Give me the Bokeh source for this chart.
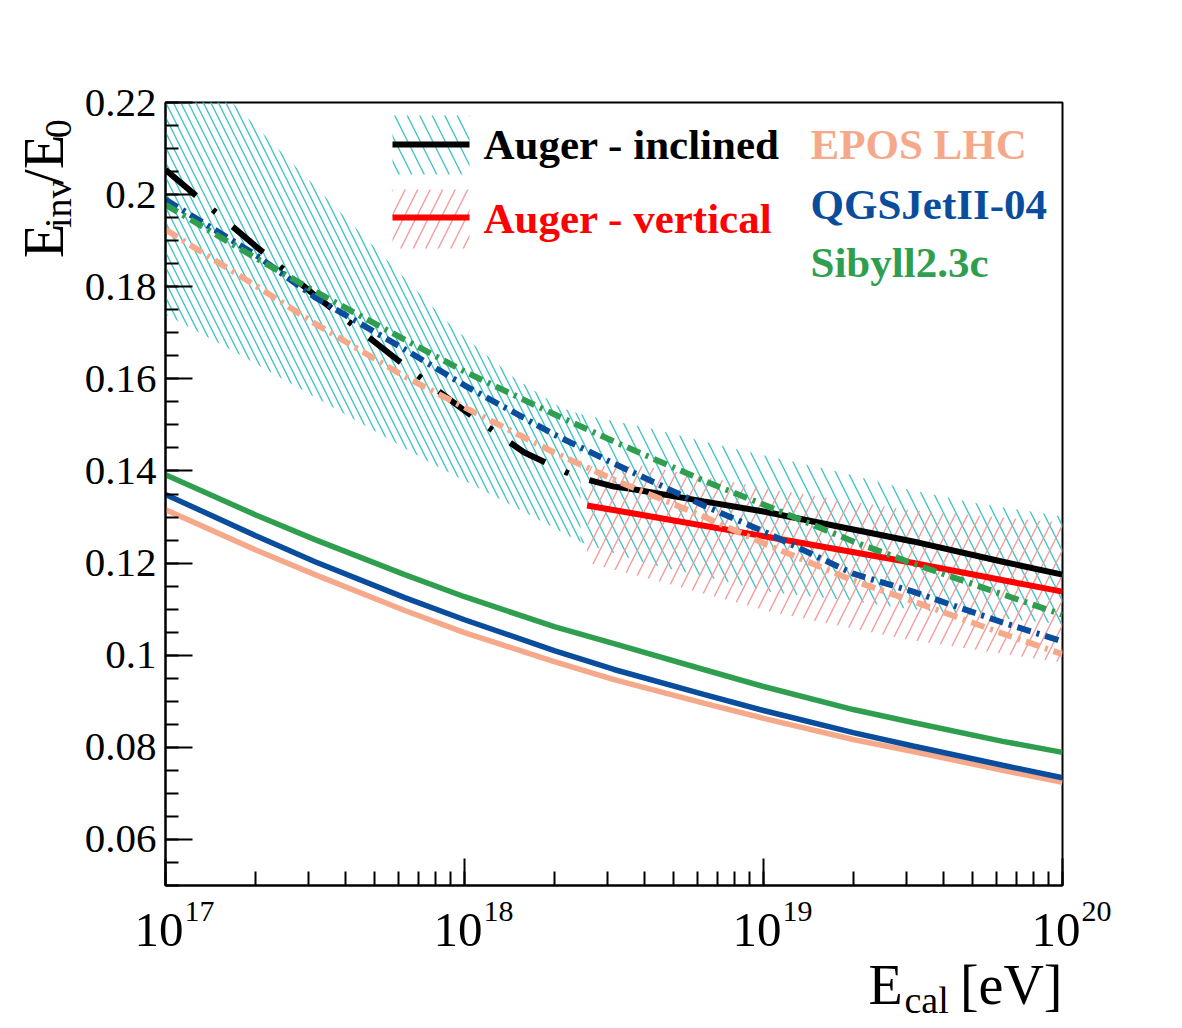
import math
from bokeh.plotting import figure
from bokeh.layouts import column, row
from bokeh.models import Range1d, FixedTicker, LogTicker, CustomJSTickFormatter, Label
from bokeh.core.properties import value
from bokeh.embed import file_html
from bokeh.resources import INLINE

# ---------------------------------------------------------------- data
# energies are given as log10(E_cal / eV)
model_logE = [17.0, 17.3, 17.5, 17.8, 18.0, 18.3, 18.5, 18.8, 19.0, 19.3, 19.5, 19.8, 20.0]

# hadronic interaction models, proton-like expectation (solid)
epos_solid = [0.1316, 0.1229, 0.1175, 0.1097, 0.1049, 0.0986, 0.0947, 0.0896, 0.0863, 0.0817, 0.0791, 0.0750, 0.0724]
qgsjet_solid = [0.1349, 0.1260, 0.1203, 0.1125, 0.1077, 0.1010, 0.0969, 0.0915, 0.0880, 0.0832, 0.0803, 0.0761, 0.0734]
sibyll_solid = [0.1392, 0.1305, 0.1251, 0.1175, 0.1127, 0.1062, 0.1025, 0.0969, 0.0932, 0.0882, 0.0854, 0.0813, 0.0789]

# hadronic interaction models with the measured composition (dash-dotted)
epos_mix = [0.1924, 0.1803, 0.1720, 0.1605, 0.1538, 0.1440, 0.1381, 0.1301, 0.1243, 0.1162, 0.1117, 0.1047, 0.1002]
qgsjet_mix = [0.1989, 0.1870, 0.1777, 0.1664, 0.1586, 0.1479, 0.1416, 0.1325, 0.1269, 0.1177, 0.1138, 0.1071, 0.1030]
sibyll_mix = [0.1978, 0.1863, 0.1790, 0.1685, 0.1616, 0.1523, 0.1464, 0.1379, 0.1327, 0.1247, 0.1199, 0.1132, 0.1088]

# Auger inclined events: parametrisation (dashed below 18.55, measured above)
inclined_logE = [17.0, 17.3, 17.5, 17.8, 18.0, 18.2, 18.37, 18.5, 18.55, 18.8, 19.0, 19.3, 19.5, 19.8, 20.0]
inclined_val = [0.2054, 0.1889, 0.1781, 0.1629, 0.1531, 0.1440, 0.1388, 0.1366, 0.1362, 0.1334, 0.1312, 0.1273, 0.1247, 0.1203, 0.1175]
inclined_measured_from = 18.55

# systematic band of the inclined result (low-energy part and high-energy part)
incl_band_lo_logE = [17.0, 17.217, 17.485, 17.886, 17.963, 18.164, 18.321, 18.388]
incl_band_lo_low = [0.1740, 0.1664, 0.1566, 0.1418, 0.1392, 0.1323, 0.1269, 0.1245]
incl_band_lo_high = [0.2400, 0.2204, 0.2028, 0.1761, 0.1711, 0.1603, 0.1538, 0.1523]
incl_band_hi_logE = [18.388, 18.555, 18.622, 18.813, 19.033, 19.258, 19.482, 19.702, 20.0]
incl_band_hi_low = [0.1245, 0.1210, 0.1197, 0.1169, 0.1136, 0.1121, 0.1101, 0.1086, 0.1067]
incl_band_hi_high = [0.1523, 0.1501, 0.1492, 0.1462, 0.1429, 0.1397, 0.1360, 0.1331, 0.1301]

# Auger vertical events
vertical_logE = [18.41, 18.59, 19.03, 19.48, 20.0]
vertical_val = [0.1325, 0.1305, 0.1255, 0.1203, 0.1138]
vertical_band_low = [0.1201, 0.1171, 0.1093, 0.1034, 0.0984]
vertical_band_high = [0.1410, 0.1412, 0.1360, 0.1316, 0.1288]

y_ticks = [0.06, 0.08, 0.10, 0.12, 0.14, 0.16, 0.18, 0.20, 0.22]
x_decades = [17, 18, 19, 20]

# ---------------------------------------------------------------- style
EPOS = "#f6a98a"
QGS = "#0a4d9d"
SIB = "#2f9f4f"
CYAN = "#43c4c8"
PINK = "#f39b9b"
SERIF = "Liberation Serif"

W, H = 1182, 1028
LEFT_W = 80            # strip holding the vertical axis title
TOP_H = 893            # height of the strip holding the frame
FL, FR, FT, FB = 165, 1062, 102, 885   # frame edges on the page
XMIN, XMAX = 1e17, 1e20
YMIN, YMAX = 0.05, 0.22
SHIFT = 14.0 / 43.0    # baseline correction of the text renderer, per px of font size
ROT_SHIFT = 80         # along-line correction of the rotated title pieces


def ex(px):
    """page x pixel -> energy"""
    return 10 ** (17 + 3.0 * (px - FL) / (FR - FL))


def vy(py):
    """page y pixel -> ratio value"""
    return YMAX - (py - FT) * (YMAX - YMIN) / (FB - FT)


def E(logs):
    return [10.0 ** v for v in logs]


def blank(width, height, x_range, y_range, x_type="linear"):
    f = figure(width=width, height=height, x_range=x_range, y_range=y_range,
               x_axis_type=x_type, x_axis_location=None, y_axis_location=None,
               output_backend="svg", toolbar_location=None,
               min_border_left=0, min_border_right=0, min_border_top=0, min_border_bottom=0)
    f.background_fill_color = "white"
    f.border_fill_color = "white"
    f.outline_line_color = None
    f.xgrid.visible = False
    f.ygrid.visible = False
    return f


# ---------------------------------------------------------------- main frame
p = figure(width=W - LEFT_W, height=TOP_H, x_axis_type="log",
           x_range=Range1d(XMIN, XMAX), y_range=Range1d(YMIN, YMAX),
           output_backend="svg", toolbar_location=None,
           min_border_left=FL - LEFT_W, min_border_right=W - FR,
           min_border_top=FT, min_border_bottom=TOP_H - FB)
p.background_fill_color = "white"
p.border_fill_color = "white"
p.xgrid.visible = False
p.ygrid.visible = False
p.outline_line_color = "black"
p.outline_line_width = 2

for ax in (p.xaxis[0], p.yaxis[0]):
    ax.axis_line_width = 2
    ax.major_tick_line_width = 2
    ax.minor_tick_line_width = 2
    ax.major_tick_out = 0
    ax.minor_tick_out = 0

p.yaxis.ticker = FixedTicker(ticks=y_ticks,
                             minor_ticks=[round(0.05 + 0.005 * i, 3) for i in range(35)])
p.yaxis.major_tick_in = 27
p.yaxis.minor_tick_in = 13
p.yaxis.formatter = CustomJSTickFormatter(code="return tick.toFixed(2).replace(/0$/, '')")
p.yaxis.major_label_text_font = SERIF
p.yaxis.major_label_text_font_size = "41px"
p.yaxis.major_label_text_color = "black"
p.yaxis.major_label_standoff = 9

p.xaxis.ticker = LogTicker(num_minor_ticks=10)
p.xaxis.major_tick_in = 27
p.xaxis.minor_tick_in = 14
p.xaxis.formatter = CustomJSTickFormatter(code="return ''")
p.xaxis.major_label_text_font_size = "1px"
p.xaxis.major_label_standoff = 0

# ---- bands
HW = 1.4
p.varea(x=E(incl_band_lo_logE), y1=incl_band_lo_low, y2=incl_band_lo_high,
        fill_alpha=0, hatch_pattern="left_diagonal_line", hatch_color=CYAN,
        hatch_scale=15, hatch_weight=HW)
p.varea(x=E(incl_band_hi_logE), y1=incl_band_hi_low, y2=incl_band_hi_high,
        fill_alpha=0, hatch_pattern="left_diagonal_line", hatch_color=CYAN,
        hatch_scale=25, hatch_weight=HW)
p.varea(x=E(vertical_logE), y1=vertical_band_low, y2=vertical_band_high,
        fill_alpha=0, hatch_pattern="right_diagonal_line", hatch_color=PINK,
        hatch_scale=25, hatch_weight=HW)

# ---- Auger results
lo = [i for i, v in enumerate(inclined_logE) if v <= inclined_measured_from]
hi = [i for i, v in enumerate(inclined_logE) if v >= inclined_measured_from]
p.line(E([inclined_logE[i] for i in lo]), [inclined_val[i] for i in lo],
       line_color="black", line_width=6, line_dash="40 22 4 22", line_cap="butt")
p.line(E([inclined_logE[i] for i in hi]), [inclined_val[i] for i in hi],
       line_color="black", line_width=6)
p.line(E(vertical_logE), vertical_val, line_color="#ff0000", line_width=6)

# ---- models
for vals, col in ((epos_mix, EPOS), (qgsjet_mix, QGS), (sibyll_mix, SIB)):
    p.line(E(model_logE), vals, line_color=col, line_width=6,
           line_dash="14 6 3 6", line_cap="butt")
for vals, col in ((epos_solid, EPOS), (qgsjet_solid, QGS), (sibyll_solid, SIB)):
    p.line(E(model_logE), vals, line_color=col, line_width=5.5)

# ---- legend
p.quad(left=ex(392), right=ex(469), top=vy(115), bottom=vy(174), fill_alpha=0,
       line_alpha=0, hatch_pattern="left_diagonal_line", hatch_color=CYAN,
       hatch_scale=25, hatch_weight=HW)
p.quad(left=ex(392), right=ex(469), top=vy(189), bottom=vy(248), fill_alpha=0,
       line_alpha=0, hatch_pattern="right_diagonal_line", hatch_color=PINK,
       hatch_scale=25, hatch_weight=HW)
p.segment(x0=[ex(392)], x1=[ex(469)], y0=[vy(144)], y1=[vy(144)],
          line_color="black", line_width=6)
p.segment(x0=[ex(392)], x1=[ex(469)], y0=[vy(217)], y1=[vy(217)],
          line_color="#ff0000", line_width=6)


def legend_text(text, px, py, size, color, style="bold"):
    p.add_layout(Label(x=px - FL, y=FB - py + SHIFT * size, x_units="screen", y_units="screen",
                       text=text, text_font=SERIF, text_font_size=f"{size}px",
                       text_color=color, text_font_style=style, text_align="left",
                       text_baseline="alphabetic"))


LEG = 43
legend_text("Auger - inclined", 483, 158, LEG, "black")
legend_text("Auger - vertical", 483, 232, LEG, "#ff0000")
legend_text("EPOS LHC", 810, 158, LEG, EPOS)
legend_text("QGSJetII-04", 810, 218, LEG, QGS)
legend_text("Sibyll2.3c", 810, 276, LEG, SIB)

# ---------------------------------------------------------------- x tick labels and x title
BOT_H = H - TOP_H
b = blank(W, BOT_H, Range1d(ex(0), ex(W)), Range1d(0, BOT_H), x_type="log")


def btext(x, py, text, size, align="left", x_offset=0.0):
    b.text(x=[x], y=[H - py + SHIFT * size], text=[text], x_offset=x_offset,
           text_font=value(SERIF), text_font_size=f"{size}px", text_align=align,
           text_baseline="alphabetic", text_color="black")


for d in x_decades:
    btext(10.0 ** d, 945, "10", 49, "right", 18)
    btext(10.0 ** d, 921, str(d), 30, "left", 19)

BIG, SUB = 56, 38
btext(ex(868), 1003, "E", BIG)
btext(ex(904), 1012, "cal", SUB)
btext(ex(1062), 1003, "[eV]", BIG, "right")

# ---------------------------------------------------------------- y title (rotated)
l = blank(LEFT_W, TOP_H, Range1d(0, LEFT_W), Range1d(0, TOP_H))


def ltext(px, py_center, text, size):
    """rotated piece: baseline at page x px, centred at page y py_center"""
    l.text(x=[px - SHIFT * size], y=[TOP_H - py_center + ROT_SHIFT], text=[text],
           angle=math.pi / 2, text_font=value(SERIF), text_font_size=f"{size}px",
           text_align="center", text_baseline="alphabetic", text_color="black")


pieces = [("E", BIG, 0.611, 0), ("inv", SUB, 1.278, 8), ("/E", BIG, 0.889, 0), ("0", SUB, 0.5, 8)]
ypos = 255.0
for text, size, em, drop in pieces:
    w = em * size
    ltext(62 + drop, ypos - w / 2, text, size)
    ypos -= w + 1

layout = column(row(l, p, spacing=0), b, spacing=0)
open("out.html", "w").write(file_html(layout, INLINE))
